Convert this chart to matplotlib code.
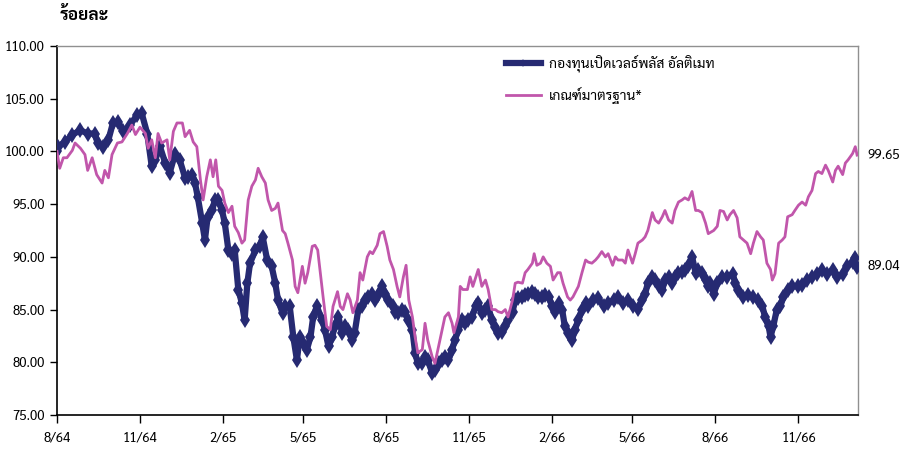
import matplotlib
matplotlib.use("Agg")
import matplotlib.pyplot as plt
import numpy as np
import pandas as pd

plt.rcParams['font.family'] = ['Sarabun', 'DejaVu Sans']

START = "2021-08-01"

fund_days = [0, 1, 9, 17, 26, 34, 42, 45, 51, 57, 62, 68, 73, 81, 89, 94, 100, 105, 109, 114,
             120, 125, 131, 136, 142, 145, 150, 153, 156, 161, 164, 167, 172, 175, 179, 183, 186, 190, 194, 197,
             201, 205, 208, 211, 214, 220, 225, 228, 233, 238, 242, 245, 250, 253, 258, 262, 266, 269, 273, 277,
             281, 284, 288, 294, 297, 301, 305, 308, 312, 316, 319, 323, 327, 330, 334, 338, 342, 345, 349, 353,
             356, 360, 364, 367, 372, 375, 378, 383, 386, 389, 394, 397, 400, 405, 408, 411, 416, 419, 423, 427,
             430, 434, 438, 441, 445, 449, 452, 456, 460, 464, 467, 471, 475, 478, 482, 486, 489, 493, 497, 500,
             505, 508, 511, 516, 519, 522, 527, 530, 533, 538, 541, 545, 549, 552, 556, 560, 563, 567, 571, 574,
             578, 582, 586, 589, 594, 600, 606, 611, 617, 622, 628, 633, 639, 644, 649, 652, 655, 660, 663, 667,
             671, 674, 678, 682, 685, 689, 693, 696, 700, 704, 708, 711, 715, 719, 722, 724, 728, 732, 737, 743,
             749, 752, 755, 761, 766, 772, 777, 782, 785, 789, 791, 794, 798, 802, 805, 810, 815, 821, 826, 832,
             837, 843, 848, 854, 860, 865, 871, 876, 882, 885, 887]
fund_vals = [100.0, 100.45, 100.9, 101.6, 102.0, 101.7, 101.7, 100.8, 100.45, 101.1, 102.7, 102.8, 101.9, 102.5, 103.5, 103.6, 101.7, 98.6, 99.2, 100.5,
             98.9, 98.0, 99.8, 99.2, 97.5, 97.6, 97.8, 97.0, 95.7, 93.2, 91.6, 93.8, 94.4, 95.4, 95.4, 94.4, 93.2, 90.65, 90.3, 90.65,
             86.9, 85.6, 84.0, 87.5, 89.4, 90.65, 91.0, 91.9, 89.7, 89.1, 87.5, 85.9, 84.7, 85.3, 85.3, 82.4, 80.2, 82.4, 81.8, 81.2,
             82.4, 84.3, 85.3, 84.0, 83.1, 81.5, 82.4, 83.4, 84.3, 82.8, 83.4, 83.1, 82.1, 82.8, 85.0, 85.3, 85.9, 86.2, 86.5, 85.9,
             86.4, 87.2, 86.5, 85.9, 85.3, 84.8, 84.7, 85.0, 84.8, 84.0, 83.1, 80.9, 79.9, 79.9, 80.5, 80.2, 79.0, 79.3, 79.9, 80.2,
             80.5, 80.2, 81.2, 82.1, 83.1, 84.0, 83.7, 84.0, 84.3, 85.3, 85.6, 84.7, 85.0, 85.3, 84.0, 83.3, 82.8, 82.9, 83.4, 84.0,
             84.8, 85.9, 86.1, 86.2, 86.4, 86.5, 86.7, 86.5, 86.2, 86.2, 86.4, 86.2, 85.3, 84.8, 85.6, 85.0, 83.4, 82.8, 82.1, 83.1,
             84.0, 85.0, 85.6, 85.3, 85.9, 86.1, 85.3, 85.6, 85.9, 86.2, 85.6, 85.9, 85.3, 85.1, 85.9, 86.5, 87.5, 88.1, 87.8, 87.2,
             86.9, 87.8, 88.1, 87.5, 88.1, 88.5, 88.6, 88.8, 89.1, 90.0, 88.5, 88.8, 88.5, 87.8, 87.2, 87.5, 86.5, 87.5, 88.1, 88.1,
             88.4, 87.5, 86.9, 86.2, 86.4, 86.2, 85.9, 85.3, 84.3, 83.4, 82.4, 83.4, 85.0, 85.3, 86.2, 86.9, 87.2, 87.2, 87.3, 87.8,
             88.1, 88.4, 88.8, 88.4, 88.8, 88.1, 88.4, 89.1, 89.5, 89.9, 89.04]

bench_days = [0, 3, 7, 11, 17, 20, 26, 31, 34, 39, 44, 50, 53, 57, 61, 67, 72, 78, 83, 87,
              92, 98, 101, 105, 109, 112, 116, 122, 125, 129, 133, 139, 142, 147, 151, 155, 159, 162, 166, 170,
              173, 176, 179, 183, 186, 190, 194, 197, 201, 205, 208, 212, 216, 220, 223, 227, 231, 234, 238, 242,
              245, 250, 253, 256, 261, 264, 267, 272, 275, 278, 283, 286, 289, 295, 299, 303, 306, 311, 314, 317,
              322, 325, 328, 333, 336, 339, 344, 347, 350, 355, 358, 362, 366, 369, 373, 377, 380, 384, 387, 390,
              394, 397, 400, 405, 408, 411, 416, 419, 423, 427, 430, 434, 438, 440, 445, 447, 450, 455, 458, 461,
              467, 471, 475, 478, 482, 486, 489, 493, 497, 500, 505, 508, 511, 516, 519, 522, 527, 529, 532, 536,
              539, 543, 547, 550, 555, 558, 561, 566, 569, 572, 578, 582, 586, 589, 593, 597, 600, 604, 608, 611,
              616, 619, 622, 627, 630, 633, 638, 641, 644, 649, 652, 655, 660, 663, 667, 671, 674, 678, 682, 685,
              689, 693, 696, 700, 704, 708, 711, 715, 719, 722, 728, 732, 735, 739, 743, 746, 750, 754, 757, 761,
              765, 769, 772, 776, 780, 783, 787, 791, 793, 796, 800, 804, 807, 810, 815, 818, 822, 826, 830, 833,
              837, 841, 844, 848, 852, 855, 860, 863, 866, 871, 874, 877, 882, 885, 887]
bench_vals = [100.0, 98.4, 99.4, 99.4, 100.1, 100.8, 100.3, 99.7, 98.2, 99.4, 97.8, 97.0, 98.2, 97.5, 99.7, 100.8, 100.9, 101.7, 102.5, 101.6,
              102.3, 101.7, 100.3, 101.1, 99.4, 101.7, 100.8, 101.1, 99.2, 101.9, 102.7, 102.7, 101.4, 102.0, 100.9, 100.45, 97.3, 95.4, 97.6, 99.2,
              97.6, 99.2, 96.7, 96.3, 95.1, 94.2, 94.8, 92.9, 92.3, 91.3, 91.6, 95.4, 96.7, 97.3, 98.4, 97.6, 97.0, 95.4, 94.4, 94.6,
              95.1, 92.5, 92.2, 91.3, 89.7, 87.2, 86.6, 89.1, 87.5, 88.5, 91.0, 91.1, 90.65, 86.2, 83.4, 83.1, 85.3, 86.7, 85.3, 85.0,
              86.5, 85.9, 84.7, 85.9, 88.5, 87.8, 90.0, 90.5, 90.3, 91.1, 92.2, 92.4, 91.0, 89.7, 88.8, 87.2, 86.2, 88.1, 89.2, 85.9,
              84.3, 82.4, 80.9, 81.2, 83.7, 82.1, 80.5, 79.9, 81.5, 83.1, 84.3, 84.7, 83.7, 82.8, 84.3, 87.2, 86.9, 86.9, 88.1, 87.2,
              88.8, 87.2, 87.8, 86.9, 85.0, 85.0, 84.8, 84.7, 85.0, 84.3, 85.9, 87.5, 87.6, 87.5, 88.5, 88.8, 89.4, 90.3, 89.2, 89.4,
              90.0, 89.4, 89.1, 87.8, 88.5, 88.5, 87.5, 86.2, 85.9, 86.2, 87.2, 88.5, 89.7, 89.5, 89.4, 89.7, 90.0, 90.5, 90.0, 90.3,
              89.2, 90.0, 89.7, 89.7, 89.4, 90.65, 89.4, 90.3, 91.3, 91.6, 91.9, 92.5, 94.2, 93.5, 93.2, 93.8, 94.4, 93.5, 93.2, 94.4,
              95.2, 95.4, 95.6, 95.4, 96.2, 94.4, 94.4, 94.2, 93.2, 92.2, 92.5, 92.9, 94.4, 94.3, 93.5, 94.0, 94.4, 93.7, 91.9, 91.6,
              91.3, 90.3, 91.3, 92.4, 91.9, 91.6, 89.4, 88.8, 87.8, 88.4, 91.3, 91.6, 91.9, 93.8, 94.0, 94.4, 94.9, 95.2, 94.9, 95.7,
              96.3, 97.9, 98.1, 97.9, 98.7, 98.2, 97.1, 98.2, 98.6, 97.8, 98.9, 99.2, 99.8, 100.45, 99.65]

fund_label = "กองทุนเปิดเวลธ์พลัส อัลติเมท"
bench_label = "เกณฑ์มาตรฐาน*"
y_title = "ร้อยละ"
fund_last = "89.04"
bench_last = "99.65"

start = pd.Timestamp(START)
fund_x = start + pd.to_timedelta(fund_days, unit="D")
bench_x = start + pd.to_timedelta(bench_days, unit="D")

NAVY = "#262A72"
PINK = "#C156AB"

fig = plt.figure(figsize=(9.06, 4.51), dpi=100)
ax = fig.add_axes([57 / 906, 1 - 415 / 451, (858 - 57) / 906, (415 - 46) / 451])

ax.plot(fund_x, fund_vals, color=NAVY, lw=4.5, marker="d", ms=8.5, mew=0,
        label=fund_label, zorder=3)
ax.plot(bench_x, bench_vals, color=PINK, lw=2.0, label=bench_label, zorder=4)

ax.set_ylim(75, 110)
ax.set_xlim(start, start + pd.Timedelta(days=888))
ax.set_yticks(np.arange(75, 110.1, 5))
ax.yaxis.set_major_formatter(matplotlib.ticker.FuncFormatter(lambda v, p: f"{v:.2f}"))

tick_dates = pd.date_range(start, periods=10, freq="3MS")
ax.set_xticks(tick_dates)
ax.set_xticklabels([f"{d.month}/{(d.year + 543) % 100:02d}" for d in tick_dates])

ax.tick_params(axis="y", direction="out", length=5, width=1, labelsize=9.5, pad=4)
ax.tick_params(axis="x", direction="out", length=6, width=1, labelsize=9.5, pad=6)
for s in ["left", "bottom"]:
    ax.spines[s].set_color("black")
    ax.spines[s].set_linewidth(1.2)
for s in ["top", "right"]:
    ax.spines[s].set_color("#909090")
    ax.spines[s].set_linewidth(1.0)

fig.text(60 / 906, 1 - 16 / 451, y_title, fontsize=12.5, fontweight="bold",
         ha="left", va="center")

ax.annotate(bench_last, xy=(1.0, bench_vals[-1]), xycoords=("axes fraction", "data"),
            xytext=(7, 0), textcoords="offset points", va="center", ha="left", fontsize=9.5)
ax.annotate(fund_last, xy=(1.0, fund_vals[-1]), xycoords=("axes fraction", "data"),
            xytext=(7, 0), textcoords="offset points", va="center", ha="left", fontsize=9.5)

leg = ax.legend(loc="upper left", bbox_to_anchor=(0.545, 1.01), frameon=False,
                fontsize=10, handlelength=2.5, handletextpad=0.6, labelspacing=1.05,
                markerscale=0.45)
fig.savefig("out.png", dpi=100)
